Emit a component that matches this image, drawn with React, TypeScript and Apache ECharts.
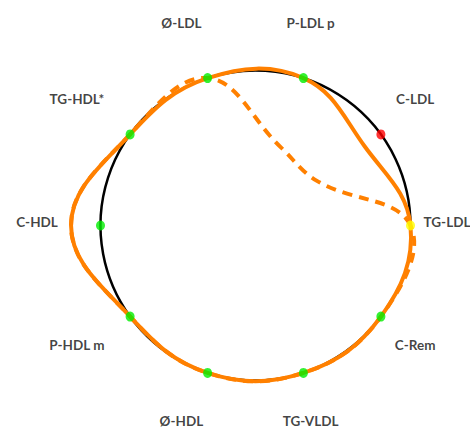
import { useEffect, useRef } from 'react';
import * as echarts from 'echarts';

const categories = ['TG-LDL', 'C-LDL', 'P-LDL p', 'Ø-LDL', 'TG-HDL*', 'C-HDL', 'P-HDL m', 'Ø-HDL', 'TG-VLDL', 'C-Rem'];
const solidValues = [1, 0.87, 1, 1, 1, 1.19, 1, 1, 1, 1];
const dashedValues = [1, 0.49, 0.53, 1, 1, 1.19, 1, 1, 1, 1];
const markerValues = [1, 1, 1, 1, 1, 1, 1, 1, 1, 1];
const markerColors = ['#ffff00', '#ff0000', '#00ee00', '#00ee00', '#00ee00', '#00ee00', '#00ee00', '#00ee00', '#00ee00', '#00ee00'];

const ORANGE = '#ff8000';
const FONT = "Lato, 'Open Sans', sans-serif";

function curveSeries(values: number[], dashed: boolean) {
  return {
    type: 'custom',
    coordinateSystem: 'polar',
    polarIndex: 0,
    silent: true,
    z: dashed ? 3 : 4,
    data: values.map((v, i) => [v, i]),
    renderItem: (params: any, api: any) => {
      if (params.dataIndex !== 0) return null;
      const pts = values.map((_, j) => api.coord([api.value(0, j), api.value(1, j)]));
      return {
        type: 'polygon',
        shape: { points: pts, smooth: 0.4 },
        style: {
          fill: 'none',
          stroke: ORANGE,
          lineWidth: 4,
          lineDash: dashed ? [10, 7] : null,
        },
      };
    },
  };
}

export default function App() {
  const ref = useRef<HTMLDivElement>(null);
  useEffect(() => {
    if (!ref.current) return;
    const chart = echarts.init(ref.current, null, { renderer: 'svg' });
    chart.setOption({
      animation: false,
      backgroundColor: '#ffffff',
      polar: [
        { center: [255.5, 225.5], radius: 155 },
        { center: [246, 222], radius: 209 },
      ],
      angleAxis: [
        {
          polarIndex: 0,
          type: 'category',
          data: categories,
          boundaryGap: false,
          startAngle: 0,
          clockwise: false,
          axisLine: { show: true, lineStyle: { color: '#000', width: 2.5 } },
          axisTick: { show: false },
          axisLabel: { show: false },
          splitLine: { show: false },
        },
        {
          polarIndex: 1,
          type: 'category',
          data: categories,
          boundaryGap: false,
          startAngle: 0,
          clockwise: false,
          show: false,
        },
      ],
      radiusAxis: [
        { polarIndex: 0, min: 0, max: 1, show: false },
        { polarIndex: 1, min: 0, max: 1, show: false },
      ],
      series: [
        curveSeries(dashedValues, true),
        curveSeries(solidValues, false),
        {
          type: 'scatter',
          coordinateSystem: 'polar',
          polarIndex: 0,
          z: 5,
          symbol: 'circle',
          symbolSize: [9, 10],
          data: markerValues.map((v, i) => [v, i]),
          itemStyle: { color: (p: any) => markerColors[p.dataIndex] },
          silent: true,
        },
        {
          type: 'scatter',
          coordinateSystem: 'polar',
          polarIndex: 1,
          symbolSize: 0,
          data: categories.map((_, i) =>
            i === 0 ? { value: [1, i], label: { offset: [-8, 0] } } : [1, i]
          ),
          label: {
            show: true,
            position: 'inside',
            formatter: (p: any) => categories[p.dataIndex],
            color: '#111',
            fontSize: 13.5,
            fontWeight: 'bold',
            fontFamily: FONT,
          },
          silent: true,
        },
      ],
    });
    return () => chart.dispose();
  }, []);
  return <div ref={ref} style={{ position: 'fixed', left: 0, top: 0, width: 470, height: 432 }} />;
}
